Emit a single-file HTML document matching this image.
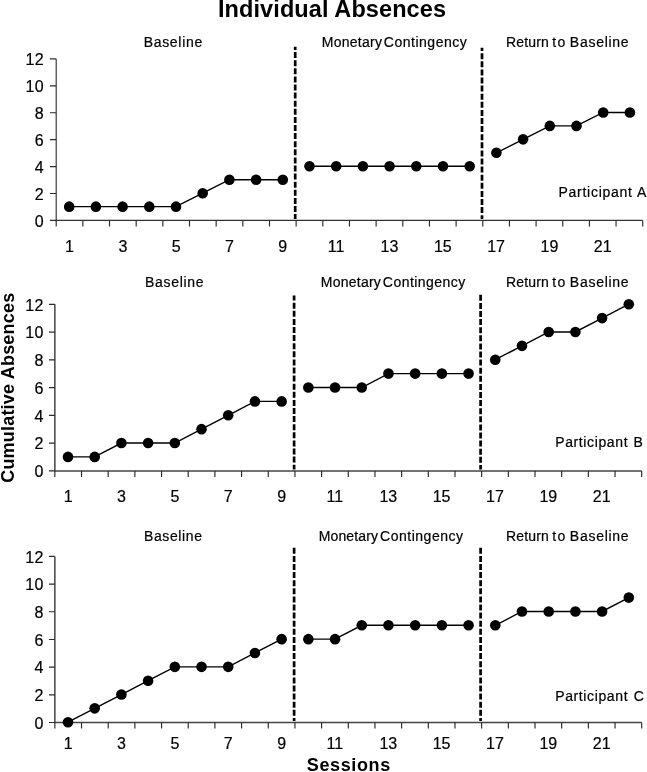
<!DOCTYPE html>
<html><head><meta charset="utf-8"><title>Individual Absences</title>
<style>
html,body{margin:0;padding:0;background:#fff;}
body{width:647px;height:772px;overflow:hidden;font-family:"Liberation Sans",sans-serif;}
svg{display:block;will-change:transform;font-family:"Liberation Sans",sans-serif;}
.t{font-size:16px;fill:#000;stroke:#000;stroke-width:0.2px;}
.p{font-size:13.5px;fill:#000;}
.b{font-weight:bold;fill:#000;}
</style></head><body>
<svg width="647" height="772" viewBox="0 0 647 772">
<rect width="647" height="772" fill="#fff"/>
<text class="b" x="332" y="16.8" font-size="23.5" text-anchor="middle" textLength="228" lengthAdjust="spacing">Individual Absences</text>
<text class="b" font-size="18" text-anchor="middle" transform="translate(13.8,387.8) rotate(-90)" textLength="190" lengthAdjust="spacing">Cumulative Absences</text>
<text class="b" x="348.5" y="771.1" font-size="18" text-anchor="middle" textLength="83.4" lengthAdjust="spacing">Sessions</text>
<g>
<path d="M56.20 58.90V220.40H642.72" fill="none" stroke="#333" stroke-width="1.15"/>
<path d="M49.90 220.40H56.20M49.90 193.48H56.20M49.90 166.57H56.20M49.90 139.65H56.20M49.90 112.73H56.20M49.90 85.82H56.20M49.90 58.90H56.20M56.20 220.40V226.40M82.86 220.40V226.40M109.52 220.40V226.40M136.18 220.40V226.40M162.84 220.40V226.40M189.50 220.40V226.40M216.16 220.40V226.40M242.82 220.40V226.40M269.48 220.40V226.40M296.14 220.40V226.40M322.80 220.40V226.40M349.46 220.40V226.40M376.12 220.40V226.40M402.78 220.40V226.40M429.44 220.40V226.40M456.10 220.40V226.40M482.76 220.40V226.40M509.42 220.40V226.40M536.08 220.40V226.40M562.74 220.40V226.40M589.40 220.40V226.40M616.06 220.40V226.40M642.72 220.40V226.40" fill="none" stroke="#2a2a2a" stroke-width="1.15"/>
<text class="t" x="43.7" y="226.6" text-anchor="end">0</text><text class="t" x="43.7" y="199.7" text-anchor="end">2</text><text class="t" x="43.7" y="172.8" text-anchor="end">4</text><text class="t" x="43.7" y="145.8" text-anchor="end">6</text><text class="t" x="43.7" y="118.9" text-anchor="end">8</text><text class="t" x="44.1" y="92.0" text-anchor="end" letter-spacing="0.4">10</text><text class="t" x="44.1" y="65.1" text-anchor="end" letter-spacing="0.4">12</text>
<text class="t" x="69.5" y="251.7" text-anchor="middle">1</text><text class="t" x="122.9" y="251.7" text-anchor="middle">3</text><text class="t" x="176.2" y="251.7" text-anchor="middle">5</text><text class="t" x="229.5" y="251.7" text-anchor="middle">7</text><text class="t" x="282.8" y="251.7" text-anchor="middle">9</text><text class="t" x="336.1" y="251.7" text-anchor="middle">11</text><text class="t" x="389.4" y="251.7" text-anchor="middle">13</text><text class="t" x="442.8" y="251.7" text-anchor="middle">15</text><text class="t" x="496.1" y="251.7" text-anchor="middle">17</text><text class="t" x="549.4" y="251.7" text-anchor="middle">19</text><text class="t" x="602.7" y="251.7" text-anchor="middle">21</text>
<line x1="295.2" x2="295.2" y1="46.7" y2="218.9" stroke="#000" stroke-width="2.7" stroke-dasharray="6 2.1" stroke-dashoffset="2.70"/>
<line x1="482.0" x2="482.0" y1="47.7" y2="218.9" stroke="#000" stroke-width="2.7" stroke-dasharray="6 2.1" stroke-dashoffset="2.60"/>
<text x="143.64" y="46.6" font-size="14" fill="#000" stroke="#000" stroke-width="0.2" textLength="58.60" lengthAdjust="spacing">Baseline</text><text x="321.79" y="46.6" font-size="14" fill="#000" stroke="#000" stroke-width="0.2" textLength="60.14" lengthAdjust="spacing">Monetary</text><text x="383.87" y="46.6" font-size="14" fill="#000" stroke="#000" stroke-width="0.2" textLength="82.83" lengthAdjust="spacing">Contingency</text><text x="506.10" y="46.6" font-size="14" fill="#000" stroke="#000" stroke-width="0.2" textLength="42.75" lengthAdjust="spacing">Return</text><text x="552.33" y="46.6" font-size="14" fill="#000" stroke="#000" stroke-width="0.2" textLength="13.06" lengthAdjust="spacing">to</text><text x="569.87" y="46.6" font-size="14" fill="#000" stroke="#000" stroke-width="0.2" textLength="58.76" lengthAdjust="spacing">Baseline</text><text x="558.41" y="196.6" font-size="14" fill="#000" stroke="#000" stroke-width="0.2" textLength="73.56" lengthAdjust="spacing">Participant</text><text x="637.12" y="196.6" font-size="14" fill="#000" stroke="#000" stroke-width="0.2" textLength="13.50" lengthAdjust="spacing">A</text>
<polyline fill="none" stroke="#000" stroke-width="1.4" points="69.20,206.64 95.90,206.64 122.60,206.64 149.30,206.64 176.00,206.64 202.70,193.18 229.40,179.72 256.10,179.72 282.80,179.72"/>
<circle cx="69.20" cy="206.64" r="5.3" fill="#000"/><circle cx="95.90" cy="206.64" r="5.3" fill="#000"/><circle cx="122.60" cy="206.64" r="5.3" fill="#000"/><circle cx="149.30" cy="206.64" r="5.3" fill="#000"/><circle cx="176.00" cy="206.64" r="5.3" fill="#000"/><circle cx="202.70" cy="193.18" r="5.3" fill="#000"/><circle cx="229.40" cy="179.72" r="5.3" fill="#000"/><circle cx="256.10" cy="179.72" r="5.3" fill="#000"/><circle cx="282.80" cy="179.72" r="5.3" fill="#000"/>
<polyline fill="none" stroke="#000" stroke-width="1.4" points="309.50,166.27 336.20,166.27 362.90,166.27 389.60,166.27 416.30,166.27 443.00,166.27 469.70,166.27"/>
<circle cx="309.50" cy="166.27" r="5.3" fill="#000"/><circle cx="336.20" cy="166.27" r="5.3" fill="#000"/><circle cx="362.90" cy="166.27" r="5.3" fill="#000"/><circle cx="389.60" cy="166.27" r="5.3" fill="#000"/><circle cx="416.30" cy="166.27" r="5.3" fill="#000"/><circle cx="443.00" cy="166.27" r="5.3" fill="#000"/><circle cx="469.70" cy="166.27" r="5.3" fill="#000"/>
<polyline fill="none" stroke="#000" stroke-width="1.4" points="496.40,152.81 523.10,139.35 549.80,125.89 576.50,125.89 603.20,112.43 629.90,112.43"/>
<circle cx="496.40" cy="152.81" r="5.3" fill="#000"/><circle cx="523.10" cy="139.35" r="5.3" fill="#000"/><circle cx="549.80" cy="125.89" r="5.3" fill="#000"/><circle cx="576.50" cy="125.89" r="5.3" fill="#000"/><circle cx="603.20" cy="112.43" r="5.3" fill="#000"/><circle cx="629.90" cy="112.43" r="5.3" fill="#000"/>
</g>
<g>
<path d="M54.85 304.30V470.90H641.70" fill="none" stroke="#444" stroke-width="1.5"/>
<path d="M48.95 470.90H54.85M48.95 443.13H54.85M48.95 415.37H54.85M48.95 387.60H54.85M48.95 359.83H54.85M48.95 332.07H54.85M48.95 304.30H54.85M54.85 470.90V476.90M81.53 470.90V476.90M108.20 470.90V476.90M134.88 470.90V476.90M161.55 470.90V476.90M188.22 470.90V476.90M214.90 470.90V476.90M241.57 470.90V476.90M268.25 470.90V476.90M294.93 470.90V476.90M321.60 470.90V476.90M348.28 470.90V476.90M374.95 470.90V476.90M401.63 470.90V476.90M428.30 470.90V476.90M454.98 470.90V476.90M481.65 470.90V476.90M508.33 470.90V476.90M535.00 470.90V476.90M561.67 470.90V476.90M588.35 470.90V476.90M615.03 470.90V476.90M641.70 470.90V476.90" fill="none" stroke="#2a2a2a" stroke-width="1.15"/>
<text class="t" x="43.4" y="477.1" text-anchor="end">0</text><text class="t" x="43.4" y="449.3" text-anchor="end">2</text><text class="t" x="43.4" y="421.6" text-anchor="end">4</text><text class="t" x="43.4" y="393.8" text-anchor="end">6</text><text class="t" x="43.4" y="366.0" text-anchor="end">8</text><text class="t" x="43.8" y="338.3" text-anchor="end" letter-spacing="0.4">10</text><text class="t" x="43.8" y="310.5" text-anchor="end" letter-spacing="0.4">12</text>
<text class="t" x="68.2" y="502.0" text-anchor="middle">1</text><text class="t" x="121.5" y="502.0" text-anchor="middle">3</text><text class="t" x="174.9" y="502.0" text-anchor="middle">5</text><text class="t" x="228.2" y="502.0" text-anchor="middle">7</text><text class="t" x="281.6" y="502.0" text-anchor="middle">9</text><text class="t" x="334.9" y="502.0" text-anchor="middle">11</text><text class="t" x="388.3" y="502.0" text-anchor="middle">13</text><text class="t" x="441.6" y="502.0" text-anchor="middle">15</text><text class="t" x="495.0" y="502.0" text-anchor="middle">17</text><text class="t" x="548.3" y="502.0" text-anchor="middle">19</text><text class="t" x="601.7" y="502.0" text-anchor="middle">21</text>
<line x1="294.1" x2="294.1" y1="295.6" y2="469.4" stroke="#000" stroke-width="2.7" stroke-dasharray="6 2.1" stroke-dashoffset="1.00"/>
<line x1="480.6" x2="480.6" y1="294.8" y2="469.4" stroke="#000" stroke-width="2.7" stroke-dasharray="6 2.1" stroke-dashoffset="0.00"/>
<text x="144.95" y="286.7" font-size="14" fill="#000" stroke="#000" stroke-width="0.2" textLength="58.68" lengthAdjust="spacing">Baseline</text><text x="320.79" y="286.7" font-size="14" fill="#000" stroke="#000" stroke-width="0.2" textLength="60.06" lengthAdjust="spacing">Monetary</text><text x="382.87" y="286.7" font-size="14" fill="#000" stroke="#000" stroke-width="0.2" textLength="82.29" lengthAdjust="spacing">Contingency</text><text x="506.10" y="286.7" font-size="14" fill="#000" stroke="#000" stroke-width="0.2" textLength="42.75" lengthAdjust="spacing">Return</text><text x="552.33" y="286.7" font-size="14" fill="#000" stroke="#000" stroke-width="0.2" textLength="13.06" lengthAdjust="spacing">to</text><text x="569.87" y="286.7" font-size="14" fill="#000" stroke="#000" stroke-width="0.2" textLength="58.76" lengthAdjust="spacing">Baseline</text><text x="555.18" y="447.0" font-size="14" fill="#000" stroke="#000" stroke-width="0.2" textLength="72.40" lengthAdjust="spacing">Participant</text><text x="633.62" y="447.0" font-size="14" fill="#000" stroke="#000" stroke-width="0.2" textLength="12.40" lengthAdjust="spacing">B</text>
<polyline fill="none" stroke="#000" stroke-width="1.4" points="68.00,456.92 94.71,456.92 121.41,443.03 148.12,443.03 174.82,443.03 201.53,429.15 228.23,415.27 254.94,401.38 281.64,401.38"/>
<circle cx="68.00" cy="456.92" r="5.3" fill="#000"/><circle cx="94.71" cy="456.92" r="5.3" fill="#000"/><circle cx="121.41" cy="443.03" r="5.3" fill="#000"/><circle cx="148.12" cy="443.03" r="5.3" fill="#000"/><circle cx="174.82" cy="443.03" r="5.3" fill="#000"/><circle cx="201.53" cy="429.15" r="5.3" fill="#000"/><circle cx="228.23" cy="415.27" r="5.3" fill="#000"/><circle cx="254.94" cy="401.38" r="5.3" fill="#000"/><circle cx="281.64" cy="401.38" r="5.3" fill="#000"/>
<polyline fill="none" stroke="#000" stroke-width="1.4" points="308.35,387.50 335.05,387.50 361.76,387.50 388.46,373.62 415.17,373.62 441.87,373.62 468.58,373.62"/>
<circle cx="308.35" cy="387.50" r="5.3" fill="#000"/><circle cx="335.05" cy="387.50" r="5.3" fill="#000"/><circle cx="361.76" cy="387.50" r="5.3" fill="#000"/><circle cx="388.46" cy="373.62" r="5.3" fill="#000"/><circle cx="415.17" cy="373.62" r="5.3" fill="#000"/><circle cx="441.87" cy="373.62" r="5.3" fill="#000"/><circle cx="468.58" cy="373.62" r="5.3" fill="#000"/>
<polyline fill="none" stroke="#000" stroke-width="1.4" points="495.28,359.73 521.99,345.85 548.69,331.97 575.40,331.97 602.10,318.08 628.81,304.20"/>
<circle cx="495.28" cy="359.73" r="5.3" fill="#000"/><circle cx="521.99" cy="345.85" r="5.3" fill="#000"/><circle cx="548.69" cy="331.97" r="5.3" fill="#000"/><circle cx="575.40" cy="331.97" r="5.3" fill="#000"/><circle cx="602.10" cy="318.08" r="5.3" fill="#000"/><circle cx="628.81" cy="304.20" r="5.3" fill="#000"/>
</g>
<g>
<path d="M54.85 556.40V722.50H641.70" fill="none" stroke="#444" stroke-width="1.5"/>
<path d="M48.95 722.50H54.85M48.95 694.82H54.85M48.95 667.13H54.85M48.95 639.45H54.85M48.95 611.77H54.85M48.95 584.08H54.85M48.95 556.40H54.85M54.85 722.50V728.50M81.53 722.50V728.50M108.20 722.50V728.50M134.88 722.50V728.50M161.55 722.50V728.50M188.22 722.50V728.50M214.90 722.50V728.50M241.57 722.50V728.50M268.25 722.50V728.50M294.93 722.50V728.50M321.60 722.50V728.50M348.28 722.50V728.50M374.95 722.50V728.50M401.63 722.50V728.50M428.30 722.50V728.50M454.98 722.50V728.50M481.65 722.50V728.50M508.33 722.50V728.50M535.00 722.50V728.50M561.67 722.50V728.50M588.35 722.50V728.50M615.03 722.50V728.50M641.70 722.50V728.50" fill="none" stroke="#2a2a2a" stroke-width="1.15"/>
<text class="t" x="43.4" y="728.7" text-anchor="end">0</text><text class="t" x="43.4" y="701.0" text-anchor="end">2</text><text class="t" x="43.4" y="673.3" text-anchor="end">4</text><text class="t" x="43.4" y="645.7" text-anchor="end">6</text><text class="t" x="43.4" y="618.0" text-anchor="end">8</text><text class="t" x="43.8" y="590.3" text-anchor="end" letter-spacing="0.4">10</text><text class="t" x="43.8" y="562.6" text-anchor="end" letter-spacing="0.4">12</text>
<text class="t" x="68.2" y="749.3" text-anchor="middle">1</text><text class="t" x="121.5" y="749.3" text-anchor="middle">3</text><text class="t" x="174.9" y="749.3" text-anchor="middle">5</text><text class="t" x="228.2" y="749.3" text-anchor="middle">7</text><text class="t" x="281.6" y="749.3" text-anchor="middle">9</text><text class="t" x="334.9" y="749.3" text-anchor="middle">11</text><text class="t" x="388.3" y="749.3" text-anchor="middle">13</text><text class="t" x="441.6" y="749.3" text-anchor="middle">15</text><text class="t" x="495.0" y="749.3" text-anchor="middle">17</text><text class="t" x="548.3" y="749.3" text-anchor="middle">19</text><text class="t" x="601.7" y="749.3" text-anchor="middle">21</text>
<line x1="294.1" x2="294.1" y1="547.8" y2="721.0" stroke="#000" stroke-width="2.7" stroke-dasharray="6 2.1" stroke-dashoffset="0.00"/>
<line x1="480.6" x2="480.6" y1="547.8" y2="721.0" stroke="#000" stroke-width="2.7" stroke-dasharray="6 2.1" stroke-dashoffset="0.00"/>
<text x="143.95" y="540.8" font-size="14" fill="#000" stroke="#000" stroke-width="0.2" textLength="58.06" lengthAdjust="spacing">Baseline</text><text x="318.72" y="540.8" font-size="14" fill="#000" stroke="#000" stroke-width="0.2" textLength="59.21" lengthAdjust="spacing">Monetary</text><text x="380.10" y="540.8" font-size="14" fill="#000" stroke="#000" stroke-width="0.2" textLength="82.91" lengthAdjust="spacing">Contingency</text><text x="506.10" y="540.8" font-size="14" fill="#000" stroke="#000" stroke-width="0.2" textLength="42.75" lengthAdjust="spacing">Return</text><text x="552.33" y="540.8" font-size="14" fill="#000" stroke="#000" stroke-width="0.2" textLength="13.06" lengthAdjust="spacing">to</text><text x="569.87" y="540.8" font-size="14" fill="#000" stroke="#000" stroke-width="0.2" textLength="58.76" lengthAdjust="spacing">Baseline</text><text x="555.18" y="700.6" font-size="14" fill="#000" stroke="#000" stroke-width="0.2" textLength="72.40" lengthAdjust="spacing">Participant</text><text x="633.64" y="700.6" font-size="14" fill="#000" stroke="#000" stroke-width="0.2" textLength="14.00" lengthAdjust="spacing">C</text>
<polyline fill="none" stroke="#000" stroke-width="1.4" points="68.00,722.20 94.71,708.36 121.41,694.52 148.12,680.68 174.82,666.83 201.53,666.83 228.23,666.83 254.94,652.99 281.64,639.15"/>
<circle cx="68.00" cy="722.20" r="5.3" fill="#000"/><circle cx="94.71" cy="708.36" r="5.3" fill="#000"/><circle cx="121.41" cy="694.52" r="5.3" fill="#000"/><circle cx="148.12" cy="680.68" r="5.3" fill="#000"/><circle cx="174.82" cy="666.83" r="5.3" fill="#000"/><circle cx="201.53" cy="666.83" r="5.3" fill="#000"/><circle cx="228.23" cy="666.83" r="5.3" fill="#000"/><circle cx="254.94" cy="652.99" r="5.3" fill="#000"/><circle cx="281.64" cy="639.15" r="5.3" fill="#000"/>
<polyline fill="none" stroke="#000" stroke-width="1.4" points="308.35,639.15 335.05,639.15 361.76,625.31 388.46,625.31 415.17,625.31 441.87,625.31 468.58,625.31"/>
<circle cx="308.35" cy="639.15" r="5.3" fill="#000"/><circle cx="335.05" cy="639.15" r="5.3" fill="#000"/><circle cx="361.76" cy="625.31" r="5.3" fill="#000"/><circle cx="388.46" cy="625.31" r="5.3" fill="#000"/><circle cx="415.17" cy="625.31" r="5.3" fill="#000"/><circle cx="441.87" cy="625.31" r="5.3" fill="#000"/><circle cx="468.58" cy="625.31" r="5.3" fill="#000"/>
<polyline fill="none" stroke="#000" stroke-width="1.4" points="495.28,625.31 521.99,611.47 548.69,611.47 575.40,611.47 602.10,611.47 628.81,597.62"/>
<circle cx="495.28" cy="625.31" r="5.3" fill="#000"/><circle cx="521.99" cy="611.47" r="5.3" fill="#000"/><circle cx="548.69" cy="611.47" r="5.3" fill="#000"/><circle cx="575.40" cy="611.47" r="5.3" fill="#000"/><circle cx="602.10" cy="611.47" r="5.3" fill="#000"/><circle cx="628.81" cy="597.62" r="5.3" fill="#000"/>
</g>
</svg></body></html>
